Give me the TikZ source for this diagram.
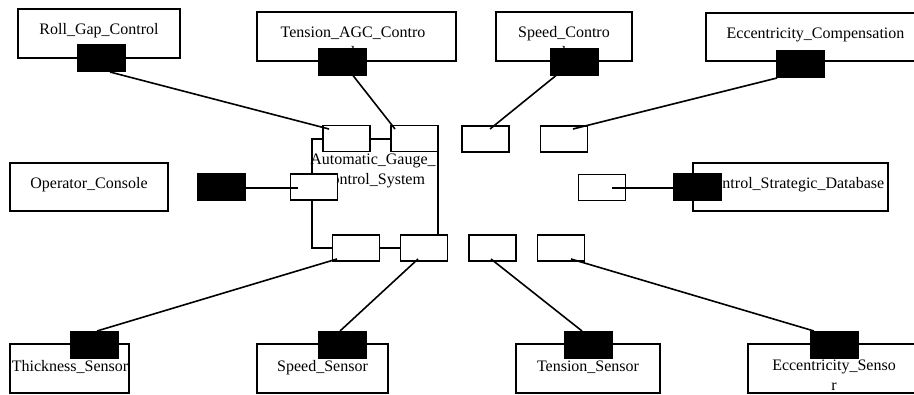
\documentclass[tikz,border=0pt]{standalone}
\usepackage{fontspec}
\setmainfont{Liberation Serif}
\usetikzlibrary{calc}
\tikzset{
  box/.style={draw, fill=white, line width=1.2pt, inner sep=0pt, outer sep=0pt},
  sz/.style 2 args={minimum width=#1*0.75pt, minimum height=#2*0.75pt},
  bport/.style={fill=black, inner sep=0pt, outer sep=0pt, minimum width=36.75pt, minimum height=21pt},
  wport/.style={draw, fill=white, line width=1.2pt, inner sep=0pt, outer sep=0pt, minimum width=35.25pt, minimum height=19.5pt},
  txt/.style={inner sep=0pt, anchor=base, align=center, font=\fontsize{12}{14.5}\selectfont},
  conn/.style={line width=1.2pt}
}
\begin{document}
\begin{tikzpicture}[x=0.75pt, y=-0.75pt]
\useasboundingbox (0,0) rectangle (914,394);
\clip (0,0) rectangle (914,394);
% outer boxes
\node[box, sz={162}{49}] (roll) at (99,33.5) {};
\node[box, sz={199}{49}] (tagc) at (356.5,36.5) {};
\node[box, sz={136}{49}] (spdc) at (564,36.5) {};
\node[box, sz={219}{48}] (eccc) at (815.5,37) {};
\node[box, sz={158}{48}] (opc) at (89,187) {};
\node[box, sz={195}{48}] (csd) at (790.5,187) {};
\node[box, sz={119}{49}] (thk) at (69.5,368.5) {};
\node[box, sz={131}{49}] (sps) at (322.5,368.5) {};
\node[box, sz={144}{49}] (tns) at (588,368.5) {};
\node[box, sz={172}{49}] (ecs) at (834,368.5) {};
% texts (multi-line nodes: base is the last line)
\node[txt] (rollt) at (99,34) {Roll\_Gap\_Control};
\node[txt] (tagct) at (353,57.3) {Tension\_AGC\_Contro\\l};
\node[txt] (spdct) at (564,57.3) {Speed\_Contro\\l};
\node[txt] (eccct) at (815.5,38) {Eccentricity\_Compensation};
\node[txt] (opct) at (89,188) {Operator\_Console};
\node[txt] (csdt) at (794,188.5) {Control\_Strategic\_Database};
\node[txt] (thkt) at (70,371) {Thickness\_Sensor};
\node[txt] (spst) at (322.5,371) {Speed\_Sensor};
\node[txt] (tnst) at (588,371) {Tension\_Sensor};
\node[txt] (ecst) at (834,390.3) {Eccentricity\_Senso\\r};
% black ports
\node[bport] (rollp) at (101.5,58) {};
\node[bport] (tagcp) at (342.5,61.5) {};
\node[bport] (spdcp) at (574.5,61.5) {};
\node[bport] (ecccp) at (800.5,64) {};
\node[bport] (opcp) at (221.5,187) {};
\node[bport] (csdp) at (697,187) {};
\node[bport] (thkp) at (94.5,345) {};
\node[bport] (spsp) at (342.5,345) {};
\node[bport] (tnsp) at (588.5,345) {};
\node[bport] (ecsp) at (834.5,345) {};
% system box
\node[draw, line width=1.2pt, inner sep=0pt, outer sep=0pt, sz={126}{109}] (sys) at (375,193.5) {};
\node[txt] (syst) at (373,184.3) {Automatic\_Gauge\_\\Control\_System};
% white ports
\node[wport] (p1) at (346.5,138.5) {};
\node[wport] (p2) at (414.5,138.5) {};
\node[wport] (p5) at (485.5,139) {};
\node[wport] (p6) at (564,139) {};
\node[wport] (pL) at (314,187) {};
\node[wport] (pR) at (602,187.5) {};
\node[wport] (p3) at (356,248) {};
\node[wport] (p4) at (424,248) {};
\node[wport] (p7) at (492.5,248) {};
\node[wport] (p8) at (561,248) {};
% connectors
\draw[conn] ($(rollp.south)+(8.5,0)$) -- ($(p1)+(-17.5,-9.5)$);
\draw[conn] ($(tagcp.south)+(10.5,0)$) -- ($(p2)+(-19.5,-9.5)$);
\draw[conn] ($(spdcp.south)+(-18.5,0)$) -- ($(p5)+(4.5,-10)$);
\draw[conn] ($(ecccp.south)+(-23.5,0)$) -- ($(p6)+(9,-10)$);
\draw[conn] ($(opcp.east)+(0,1)$) -- ($(pL)+(-16,1)$);
\draw[conn] ($(pR)+(10,0.5)$) -- ($(csdp.west)+(0,1)$);
\draw[conn] ($(p3)+(-19,11)$) -- ($(thkp.north)+(2.5,0)$);
\draw[conn] ($(p4)+(-6,11)$) -- ($(spsp.north)+(-2.5,0)$);
\draw[conn] ($(p7)+(-1.5,11)$) -- ($(tnsp.north)+(-6.5,0)$);
\draw[conn] ($(p8)+(10,11)$) -- ($(ecsp.north)+(-20.5,0)$);
\end{tikzpicture}
\end{document}
